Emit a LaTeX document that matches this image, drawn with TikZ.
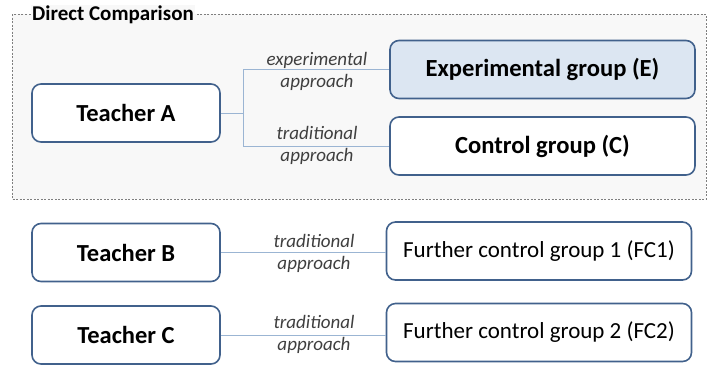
\documentclass[tikz,border=0pt]{standalone}
\usepackage{fontspec}
\setmainfont{Carlito}
\definecolor{boxline}{HTML}{41618C}
\definecolor{linkline}{HTML}{9BB5D3}
\definecolor{efill}{HTML}{DCE6F2}
\definecolor{framebg}{HTML}{F8F8F8}
\definecolor{framegray}{HTML}{7F7F7F}
\definecolor{lblgray}{HTML}{3F3F3F}
\tikzset{
  teacher/.style={draw=boxline, line width=1.6pt, rounded corners=9pt, fill=white,
    minimum width=188pt, minimum height=58pt, font=\fontsize{24.5}{28}\selectfont\bfseries},
  group/.style={draw=boxline, line width=1.6pt, rounded corners=9pt, fill=white,
    minimum width=305pt, minimum height=58pt, font=\fontsize{24.6}{28}\selectfont\bfseries},
  fgroup/.style={group, font=\fontsize{23}{27}\selectfont},
  link/.style={draw=linkline, line width=1pt},
  approach/.style={align=center, text=lblgray, font=\fontsize{19}{22}\selectfont\itshape}
}
\begin{document}
\begin{tikzpicture}[x=1pt,y=-1pt]
  \useasboundingbox (0,0) rectangle (708,365);
  % frame of the direct comparison
  \draw[framegray, fill=framebg, line width=0.9pt, dash pattern=on 2pt off 1.5pt]
    (12,14) rectangle (706,199);
  \node[fill=framebg, inner sep=1pt, font=\fontsize{21}{24}\selectfont\bfseries] (title) at (113,15) {Direct Comparison};
  \draw
    (126,113) node[teacher] (A){Teacher A}
    (126,252.5) node[teacher] (B){Teacher B}
    (126,335) node[teacher] (Ct){Teacher C}
    (542.5,69.5) node[group, fill=efill] (E){Experimental group (E)}
    (542.5,146) node[group] (C){Control group (C)}
    (539,251) node[fgroup] (FC1){Further control group 1 (FC1)}
    (539,332.5) node[fgroup] (FC2){Further control group 2 (FC2)};
  \coordinate (fork) at (243,113);
  \begin{scope}[link]
    \draw (A) to (fork);
    \draw (fork) |- (E.west);
    \draw (fork) |- (C.west);
    \draw (B) to (FC1.west |- B);
    \draw (Ct) to (FC2.west |- Ct);
  \end{scope}
  \node[approach] (lE) at (317,71) {experimental\\approach};
  \node[approach] (lC) at (317,145) {traditional\\approach};
  \node[approach] (lB) at (314,253.5) {traditional\\approach};
  \node[approach] (lCt) at (314,334.5) {traditional\\approach};
\end{tikzpicture}
\end{document}
